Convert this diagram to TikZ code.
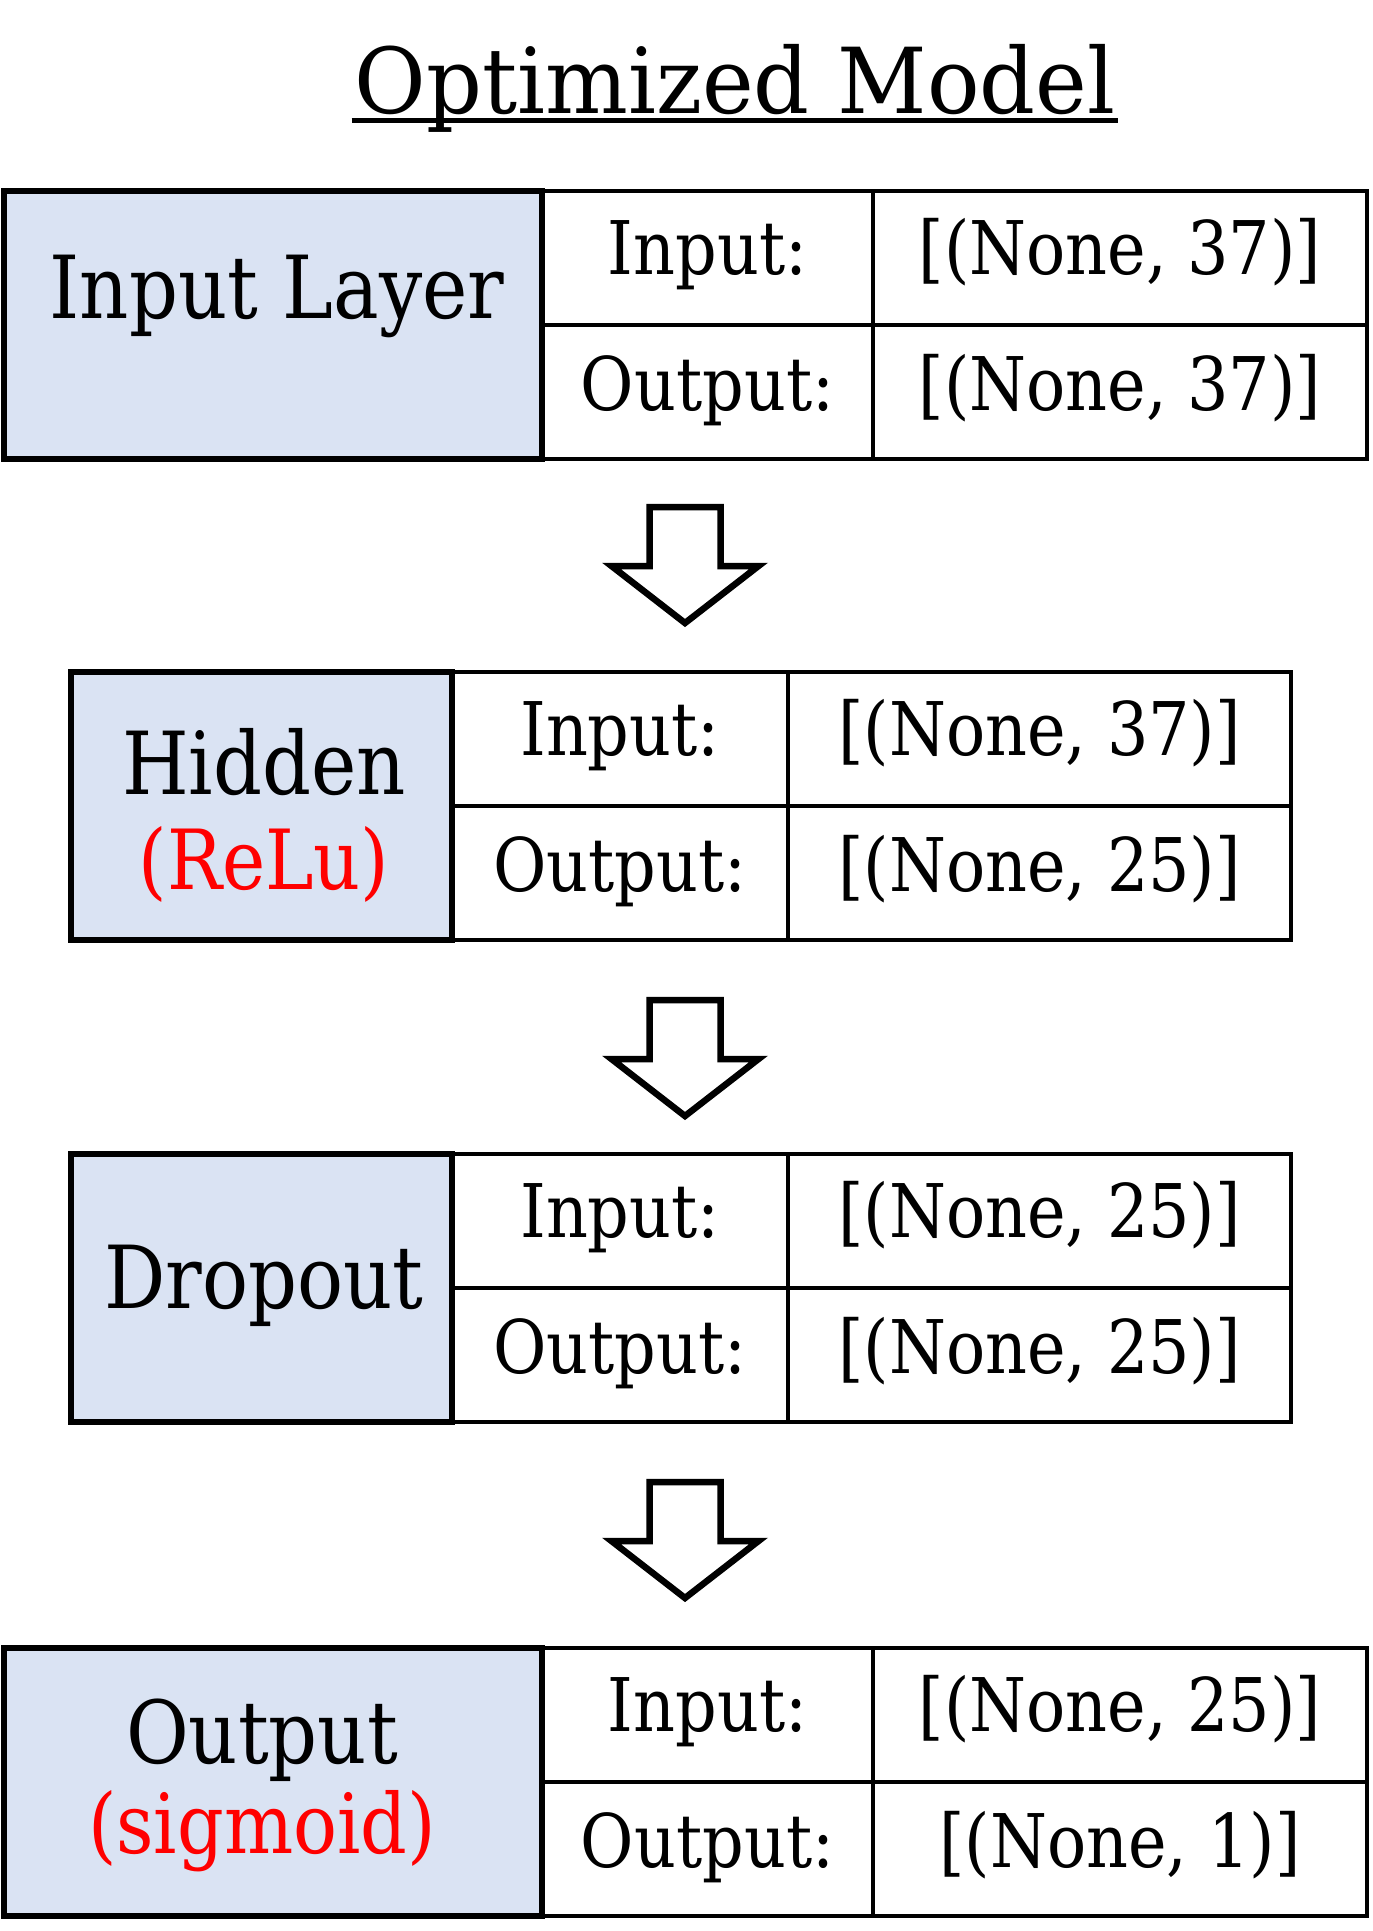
\documentclass[tikz,border=0pt]{standalone}
\usepackage{fontspec}
\setmainfont{DejaVu Serif}[FakeStretch=0.88]
\newfontfamily\titlefont{DejaVu Serif}[FakeStretch=0.96]
\usetikzlibrary{calc}

\definecolor{layerblue}{HTML}{DAE3F3}
\definecolor{actred}{HTML}{FF0000}

\tikzset{
  layerbox/.style={draw=black, line width=6.5pt, fill=layerblue,
    inner sep=0pt, outer sep=0pt, anchor=north west},
  cellbox/.style={draw=black, line width=4pt, fill=white,
    inner sep=0pt, outer sep=0pt, anchor=north west},
  gridline/.style={draw=black, line width=4pt},
  lbl/.style={anchor=base, inner sep=0pt, font=\fontsize{87}{100}\selectfont},
  actlbl/.style={anchor=base, inner sep=0pt, text=actred,
    font=\fontsize{83}{96}\selectfont},
  cell/.style={anchor=base, inner sep=0pt, font=\fontsize{74}{88}\selectfont},
  flow/.style={draw=black, line width=6.5pt, fill=white, line join=miter},
  downarrow/.pic={
    \draw[flow] (-35.5,-58) -- (35.5,-58) -- (35.5,1) -- (73.5,1)
      -- (0,58) -- (-73.5,1) -- (-35.5,1) -- cycle;
  },
}

% One layer: box on the left, 2x2 shape table on the right.
% #1 name, #2 box left, #3 top, #4 box right, #5 column split, #6 table right,
% #7 input shape, #8 output shape
\newcommand\layerrow[8]{%
  \node[cellbox, minimum width={#6-#4}, minimum height=268] (#1tab) at (#4,#3) {};
  \draw[gridline] (#1tab.north west -| #5,0) -- (#1tab.south west -| #5,0);
  \draw[gridline] (#1tab.west) -- (#1tab.east);
  \node[layerbox, minimum width={#4-#2}, minimum height=268] (#1) at (#2,#3) {};
  \node[cell] (#1inlbl)  at ({(#4+#5)/2}, {#3+83}) {Input:};
  \node[cell] (#1outlbl) at ({(#4+#5)/2}, {#3+219}) {Output:};
  \node[cell] (#1inval)  at ({(#5+#6)/2}, {#3+83}) {#7};
  \node[cell] (#1outval) at ({(#5+#6)/2}, {#3+219}) {#8};
}

\begin{document}
\begin{tikzpicture}[x=1pt, y=-1pt]
  \useasboundingbox (0,0) rectangle (1373,1931);

  % title
  \node[anchor=base, inner sep=0pt, font=\titlefont\fontsize{91}{104}\selectfont]
    (title) at (735,113) {Optimized Model};
  \draw[line width=5pt] ($(title.base west)+(-3,7)$) -- ($(title.base east)+(3,7)$);

  % layers
  \layerrow{inl}{4}{191}{542}{873}{1367}{[(None, 37)]}{[(None, 37)]}
  \layerrow{hid}{71}{672}{452}{788}{1291}{[(None, 37)]}{[(None, 25)]}
  \layerrow{drp}{71}{1154}{452}{788}{1291}{[(None, 25)]}{[(None, 25)]}
  \layerrow{outl}{4}{1648}{542}{873}{1367}{[(None, 25)]}{[(None, 1)]}

  % layer names
  \node[lbl] (inlname) at (277,318) {Input Layer};
  \node[lbl] (hidname) at (264,794) {Hidden};
  \node[actlbl] (hidact) at (264,889) {(ReLu)};
  \node[lbl] (drpname) at (264,1308) {Dropout};
  \node[lbl] (outname) at (262,1763) {Output};
  \node[actlbl] (outact) at (262,1853) {(sigmoid)};

  % flow arrows between the layers
  \coordinate (a1) at (685,565);
  \coordinate (a2) at (685,1058);
  \coordinate (a3) at (685,1540);
  \pic at (a1) {downarrow};
  \pic at (a2) {downarrow};
  \pic at (a3) {downarrow};
\end{tikzpicture}
\end{document}
